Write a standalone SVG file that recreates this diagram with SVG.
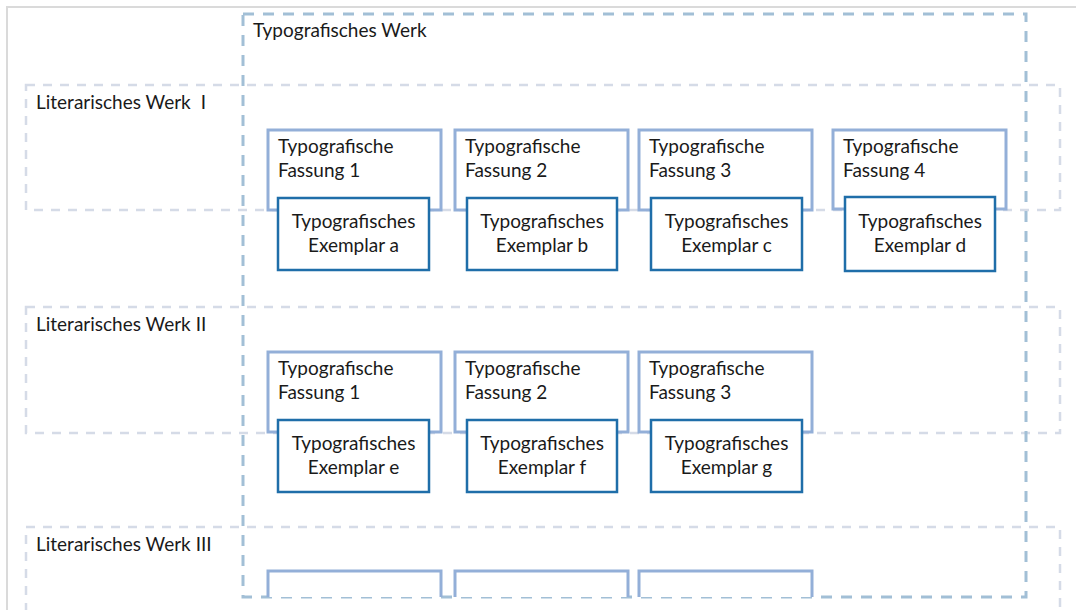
<svg xmlns="http://www.w3.org/2000/svg" width="1076" height="610" viewBox="0 0 1076 610">
<style>
text{font-family:Lato,"Liberation Sans",sans-serif;font-size:19px;fill:#1a1a1a}
.frame{fill:none;stroke:#dadada;stroke-width:2}
.lit{fill:none;stroke:#d5dbe7;stroke-width:2.5;stroke-dasharray:9 8}
.typ{fill:none;stroke:#a2bfd6;stroke-width:3;stroke-dasharray:11 9}
.fas{fill:#fff;stroke:#93afd8;stroke-width:3}
.exe{fill:#fff;stroke:#1f6ea9;stroke-width:2.5}
.c{text-anchor:middle}
</style>
<path class="frame" d="M7,610 V7 H1076"/>
<g id="lit1"><rect class="lit" x="26" y="85" width="1034" height="125"/><text x="36" y="109">Literarisches Werk<tspan dx="10">I</tspan></text></g>
<g id="lit2"><rect class="lit" x="26" y="307" width="1034" height="126"/><text x="36" y="331">Literarisches Werk II</text></g>
<g id="lit3"><path class="lit" d="M26,612 V527 H1060 V612"/><text x="36" y="551">Literarisches Werk III</text></g>
<g id="typwerk"><rect class="typ" x="243" y="14" width="783" height="583"/><text x="253" y="37">Typografisches Werk</text></g>

<g id="f1a"><rect class="fas" x="268" y="130" width="173" height="80"/><text x="278" y="153">Typografische</text><text x="278" y="177">Fassung 1</text></g>
<g id="f2a"><rect class="fas" x="455" y="130" width="173" height="80"/><text x="465" y="153">Typografische</text><text x="465" y="177">Fassung 2</text></g>
<g id="f3a"><rect class="fas" x="639" y="130" width="173" height="80"/><text x="649" y="153">Typografische</text><text x="649" y="177">Fassung 3</text></g>
<g id="f4a"><rect class="fas" x="833" y="130" width="173" height="79"/><text x="843" y="153">Typografische</text><text x="843" y="177">Fassung 4</text></g>

<g id="ea"><rect class="exe" x="278" y="198" width="151" height="72"/><text class="c" x="353.5" y="228">Typografisches</text><text class="c" x="353.5" y="252">Exemplar a</text></g>
<g id="eb"><rect class="exe" x="467" y="198" width="150" height="72"/><text class="c" x="542" y="228">Typografisches</text><text class="c" x="542" y="252">Exemplar b</text></g>
<g id="ec"><rect class="exe" x="651" y="198" width="151" height="72"/><text class="c" x="726.5" y="228">Typografisches</text><text class="c" x="726.5" y="252">Exemplar c</text></g>
<g id="ed"><rect class="exe" x="845" y="197" width="150" height="74"/><text class="c" x="920" y="228">Typografisches</text><text class="c" x="920" y="252">Exemplar d</text></g>

<g id="f1b"><rect class="fas" x="268" y="352" width="173" height="80"/><text x="278" y="375">Typografische</text><text x="278" y="399">Fassung 1</text></g>
<g id="f2b"><rect class="fas" x="455" y="352" width="173" height="80"/><text x="465" y="375">Typografische</text><text x="465" y="399">Fassung 2</text></g>
<g id="f3b"><rect class="fas" x="639" y="352" width="173" height="80"/><text x="649" y="375">Typografische</text><text x="649" y="399">Fassung 3</text></g>

<g id="ee"><rect class="exe" x="278" y="420" width="151" height="72"/><text class="c" x="353.5" y="450">Typografisches</text><text class="c" x="353.5" y="474">Exemplar e</text></g>
<g id="ef"><rect class="exe" x="467" y="420" width="150" height="72"/><text class="c" x="542" y="450">Typografisches</text><text class="c" x="542" y="474">Exemplar f</text></g>
<g id="eg"><rect class="exe" x="651" y="420" width="151" height="72"/><text class="c" x="726.5" y="450">Typografisches</text><text class="c" x="726.5" y="474">Exemplar g</text></g>

<g id="f1c"><path class="fas" d="M268,597 V571 H441 V597"/></g>
<g id="f2c"><path class="fas" d="M455,597 V571 H628 V597"/></g>
<g id="f3c"><path class="fas" d="M639,597 V571 H812 V597"/></g>
<g id="connectors"></g>
</svg>
